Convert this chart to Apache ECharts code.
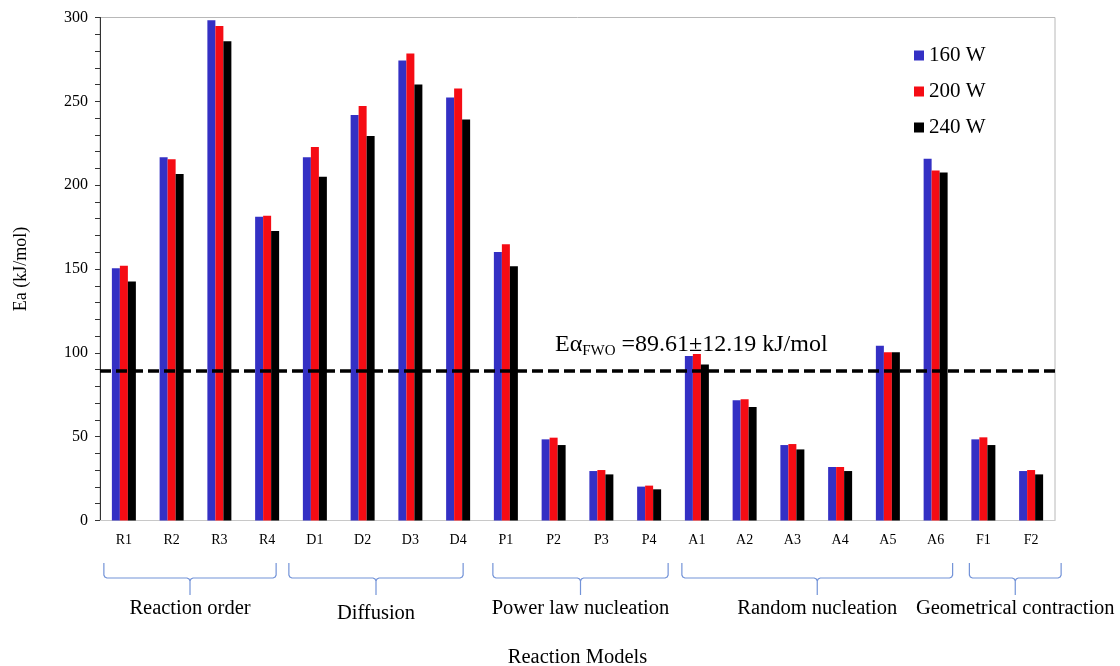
<!DOCTYPE html>
<html><head><meta charset="utf-8">
<script src="https://cdn.jsdelivr.net/npm/echarts@6/dist/echarts.min.js"></script>
<style>html,body{margin:0;padding:0;background:#fff}#c{width:1120px;height:666px}</style>
</head><body><div id="c"></div>
<script>
const categories = ['R1','R2','R3','R4','D1','D2','D3','D4','P1','P2','P3','P4','A1','A2','A3','A4','A5','A6','F1','F2'];
const s160 = [150.4,216.6,298.4,181.2,216.6,241.8,274.4,252.3,160.1,48.4,29.5,20.2,98.1,71.7,45.0,31.9,104.2,215.7,48.4,29.5];
const s200 = [151.9,215.4,294.9,181.8,222.7,247.2,278.6,257.7,164.7,49.4,30.1,20.8,99.3,72.3,45.6,31.9,100.3,208.8,49.6,30.1];
const s240 = [142.6,206.6,285.9,172.6,205.0,229.3,260.1,239.2,151.6,45.0,27.5,18.6,93.1,67.7,42.4,29.5,100.3,207.6,45.0,27.5];
const seriesNames = ['160 W','200 W','240 W'];
const fwoValue = 89.61;
const yTicks = [0,50,100,150,200,250,300];
const groupNames = ['Reaction order','Diffusion','Power law nucleation','Random nucleation','Geometrical contraction'];
const groupFirst = [0,4,8,12,18];
const groupLast = [3,7,11,17,19];

const serif = '"Liberation Serif","DejaVu Serif",serif';
const colors = ['#3430c4','#f50c14','#000000'];
// brace layout offsets (px) relative to first/last category centres
const braceOff = [[-20,9],[-26,5],[-13,19],[-15,17],[-14,30]];

const chart = echarts.init(document.getElementById('c'));
const data = [s160,s200,s240];
const option = {
  animation:false,
  backgroundColor:'#fff',
  color:colors,
  grid:{left:100,width:955,top:17.5,height:503,outerBoundsMode:'none',containLabel:false,
    show:true,borderColor:'#b8b8b8',borderWidth:1},
  legend:{orient:'vertical',left:909,top:40,itemWidth:10,itemHeight:10,itemGap:15,icon:'rect',
    textStyle:{fontFamily:serif,fontSize:21,color:'#000'},data:seriesNames},
  xAxis:{type:'category',data:categories,
    axisLine:{lineStyle:{color:'#c8c8c8',width:1}},axisTick:{show:false},
    axisLabel:{fontFamily:serif,fontSize:14,color:'#000',margin:13,interval:0},
    name:'Reaction Models',nameLocation:'middle',nameGap:127,
    nameTextStyle:{fontFamily:serif,fontSize:20.5,color:'#000'}},
  yAxis:{type:'value',min:yTicks[0],max:yTicks[yTicks.length-1],interval:50,
    axisLine:{show:true,lineStyle:{color:'#333',width:1}},
    axisTick:{show:true,length:5,lineStyle:{color:'#333'}},
    minorTick:{show:true,splitNumber:5,length:5,lineStyle:{color:'#333'}},
    splitLine:{show:false},
    axisLabel:{fontFamily:serif,fontSize:16,color:'#000',margin:12},
    name:'Ea (kJ/mol)',nameLocation:'middle',nameGap:70,
    nameTextStyle:{fontFamily:serif,fontSize:18,color:'#000'}},
  series:data.map((d,i)=>({
    name:seriesNames[i],type:'bar',data:d,barWidth:8,barGap:'0%',
    itemStyle:{color:colors[i]},
    markLine: i===0 ? {silent:true,symbol:'none',
      lineStyle:{color:'#000',width:3.5,type:[11,5]},
      label:{show:false},data:[{yAxis:fwoValue}]} : undefined
  }))
};
chart.setOption(option);

const catPx = i => chart.convertToPixel({xAxisIndex:0}, i);
const yPx = v => chart.convertToPixel({yAxisIndex:0}, v);
const graphics = [];
const braceColor = '#7393d8';
const yTop = 563, yMid = 578, yTip = 595;
groupNames.forEach((g,k)=>{
  const x1 = catPx(groupFirst[k]) + braceOff[k][0];
  const x2 = catPx(groupLast[k]) + braceOff[k][1];
  const xm = (x1+x2)/2;
  const pts = [[x1,yTop],[x1,yMid-3],[x1+1,yMid-1],[x1+3,yMid],[xm-3,yMid],[xm-1,yMid+1],[xm,yMid+3],[xm,yTip],
               [xm,yMid+3],[xm+1,yMid+1],[xm+3,yMid],[x2-3,yMid],[x2-1,yMid-1],[x2,yMid-3],[x2,yTop]];
  graphics.push({type:'polyline',shape:{points:pts},style:{fill:null,stroke:braceColor,lineWidth:1.2}});
  graphics.push({type:'text',x:xm,y:(k===1?614:609),style:{text:g,fontFamily:serif,fontSize:20.5,fill:'#000',align:'center',verticalAlign:'middle'}});
});
graphics.push({type:'text',x:555,y:yPx(fwoValue)-12,style:{
  text:'{a|Eα}{b|FWO}{a| =89.61±12.19 kJ/mol}',
  verticalAlign:'bottom',align:'left',
  rich:{a:{fontFamily:serif,fontSize:24,fill:'#000',lineHeight:28,verticalAlign:'middle'},
        b:{fontFamily:serif,fontSize:15,fill:'#000',lineHeight:15,verticalAlign:'bottom'}}
}});
chart.setOption({graphic:graphics});
</script></body></html>
